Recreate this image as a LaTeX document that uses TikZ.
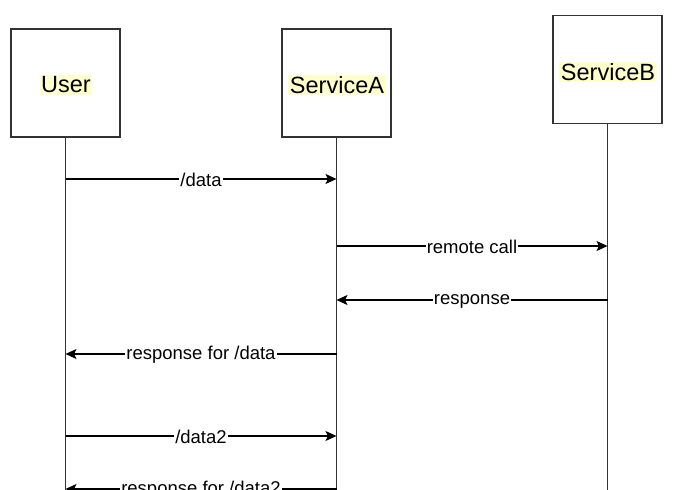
\documentclass[tikz,border=0pt]{standalone}
\usepackage{fontspec}
\setmainfont{Liberation Sans}
\usetikzlibrary{arrows.meta}
\definecolor{hl}{HTML}{FFFFCC}
\definecolor{boxline}{HTML}{333333}
\begin{document}
\begin{tikzpicture}[x=1pt,y=-1pt,
  actor/.style={draw=boxline, line width=1.3pt, fill=white, minimum width=109pt, minimum height=108pt, inner sep=0pt},
  actlabel/.style={fill=hl, inner sep=1.5pt, font=\fontsize{23.5}{27}\selectfont},
  life/.style={draw=boxline, line width=1.3pt},
  msg/.style={line width=1.1pt, -{Stealth[length=11pt,width=10pt,inset=2.5pt]}},
  msglabel/.style={fill=white, inner sep=1pt, font=\fontsize{18.5}{21}\selectfont}]
\useasboundingbox (0,0) rectangle (675,490);
\clip (0,0) rectangle (675,490);
% actors
\node[actor] (user) at (65.5,83) {};
\node[actlabel] (userlbl) at (66,85) {User};
\node[actor] (sa) at (336.5,83) {};
\node[actlabel] (salbl) at (337,85) {ServiceA};
\node[actor] (sb) at (607.5,69.5) {};
\node[actlabel] (sblbl) at (608,72) {ServiceB};
% lifelines
\coordinate (userend) at (65.5,500);
\coordinate (saend) at (336.5,500);
\coordinate (sbend) at (607.5,500);
\draw[life] (user.south) -- (userend);
\draw[life] (sa.south) -- (saend);
\draw[life] (sb.south) -- (sbend);
% messages
\coordinate (m1s) at (65.5,179);  \coordinate (m1e) at (336.5,179);
\coordinate (m2s) at (336.5,246); \coordinate (m2e) at (607.5,246);
\coordinate (m3s) at (607.5,300); \coordinate (m3e) at (336.5,300);
\coordinate (m4s) at (336.5,354); \coordinate (m4e) at (65.5,354);
\coordinate (m5s) at (65.5,436);  \coordinate (m5e) at (336.5,436);
\coordinate (m6s) at (336.5,489); \coordinate (m6e) at (65.5,489);
\draw[msg] (m1s) -- node[msglabel, yshift=-1pt] (l1) {/data} (m1e);
\draw[msg] (m2s) -- node[msglabel, yshift=-1pt] (l2) {remote call} (m2e);
\draw[msg] (m3s) -- node[msglabel, yshift=-1pt] (l3) {response} (m3e);
\draw[msg] (m4s) -- node[msglabel, yshift=-1pt] (l4) {response for /data} (m4e);
\draw[msg] (m5s) -- node[msglabel, yshift=-1pt] (l5) {/data2} (m5e);
\draw[msg] (m6s) -- node[msglabel, yshift=-1pt] (l6) {response for /data2} (m6e);
\end{tikzpicture}
\end{document}
